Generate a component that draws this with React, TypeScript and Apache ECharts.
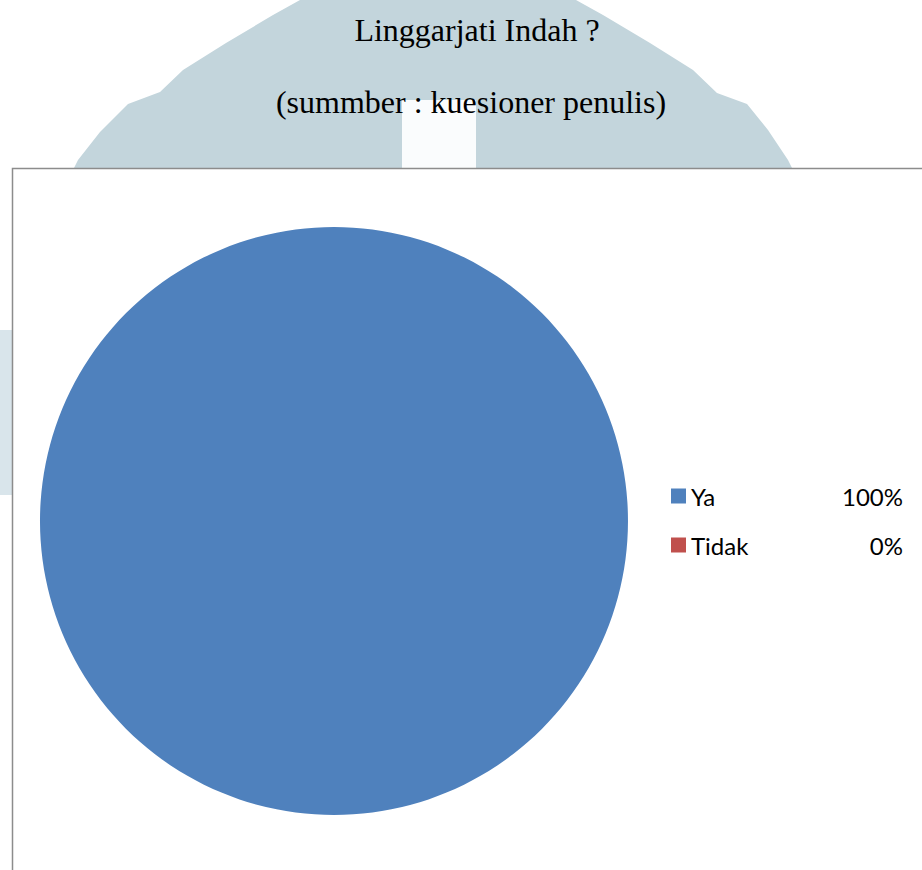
import React, { useEffect, useRef } from "react";
import * as echarts from "echarts";

const titleLines = ["Linggarjati Indah ?", "(summber : kuesioner penulis)"];
const categories = ["Ya", "Tidak"];
const percentages = [100, 0];
const sliceColors = ["#4f81bd", "#c0504d"];

export default function App() {
  const ref = useRef<HTMLDivElement>(null);

  useEffect(() => {
    if (!ref.current) return;
    const chart = echarts.init(ref.current, null, { renderer: "svg" });
    const pctByName: Record<string, number> = {};
    categories.forEach((c, i) => (pctByName[c] = percentages[i]));

    chart.setOption({
      animation: false,
      backgroundColor: "#ffffff",
      graphic: [
        {
          type: "polygon",
          z: 0,
          silent: true,
          shape: {
            points: [
              [70, 176],
              [78, 160],
              [100, 132],
              [128, 104],
              [160, 92],
              [183, 70],
              [226, 43],
              [273, 15],
              [300, 0],
              [576, 0],
              [603, 15],
              [650, 43],
              [693, 70],
              [717, 93],
              [747, 104],
              [768, 130],
              [788, 160],
              [796, 176],
            ],
          },
          style: { fill: "#c3d5dc" },
        },
        {
          type: "rect",
          z: 1,
          silent: true,
          shape: { x: 402, y: 100, width: 74, height: 70 },
          style: { fill: "#fafcfd" },
        },
        {
          type: "rect",
          z: 1,
          silent: true,
          shape: { x: 0, y: 330, width: 12, height: 165 },
          style: { fill: "#d9e5eb" },
        },
        {
          type: "rect",
          z: 2,
          silent: true,
          shape: { x: 12.5, y: 168.5, width: 930, height: 720 },
          style: { fill: "#ffffff", stroke: "#8c8c8c", lineWidth: 1.5 },
        },
        {
          type: "text",
          z: 3,
          x: 477,
          y: 46,
          style: {
            text: titleLines[0],
            fontFamily: "Liberation Serif",
            fontSize: 32,
            fill: "#000000",
            textAlign: "center",
            textVerticalAlign: "bottom",
          },
        },
        {
          type: "text",
          z: 3,
          x: 471,
          y: 118,
          style: {
            text: titleLines[1],
            fontFamily: "Liberation Serif",
            fontSize: 32,
            fill: "#000000",
            textAlign: "center",
            textVerticalAlign: "bottom",
          },
        },
      ],
      legend: {
        orient: "vertical",
        left: 671,
        top: 484,
        padding: 0,
        itemWidth: 15,
        itemHeight: 15,
        itemGap: 25,
        icon: "rect",
        data: categories,
        formatter: (name: string) => `{n|${name}}{v|${pctByName[name]}%}`,
        textStyle: {
          fontFamily: "Lato",
          fontSize: 24,
          color: "#000000",
          rich: {
            n: { fontFamily: "Lato", fontSize: 24, color: "#000000", width: 150 },
            v: { fontFamily: "Lato", fontSize: 24, color: "#000000", width: 62, align: "right" },
          },
        },
      },
      series: [
        {
          type: "pie",
          z: 10,
          center: [334, 521],
          radius: 294,
          startAngle: 90,
          clockwise: true,
          label: { show: false },
          labelLine: { show: false },
          itemStyle: { borderWidth: 0 },
          emphasis: { disabled: true },
          data: categories.map((c, i) => ({
            name: c,
            value: percentages[i],
            itemStyle: { color: sliceColors[i] },
          })),
        },
      ],
    });
    return () => chart.dispose();
  }, []);

  return (
    <div
      ref={ref}
      style={{ position: "absolute", left: 0, top: 0, width: 922, height: 870 }}
    />
  );
}
